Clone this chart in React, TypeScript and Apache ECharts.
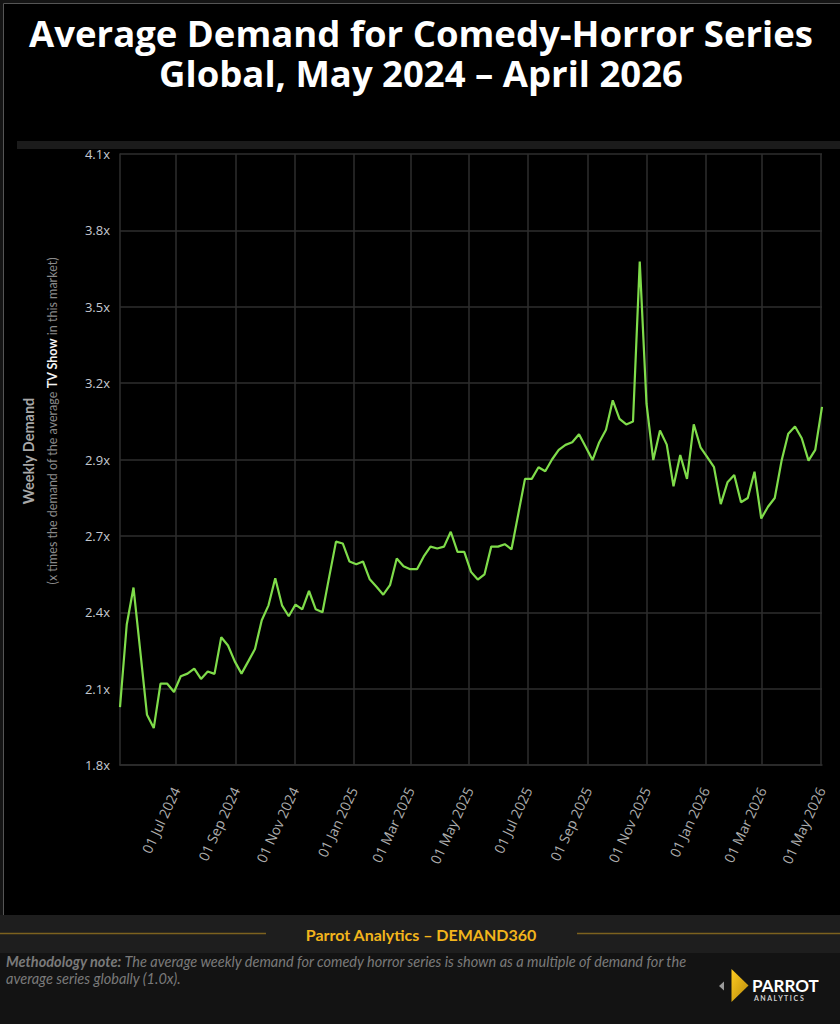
import React, { useEffect, useRef } from "react";
import * as echarts from "echarts";

// ---------- data ----------
const firstWeek = [2024, 4, 4]; // 04 May 2024 (weekly points)
const demandValues: number[] = [
  2.018, 2.329, 2.468, 2.23, 1.989, 1.939, 2.106, 2.106, 2.075, 2.134,
  2.144, 2.163, 2.124, 2.152, 2.143, 2.281, 2.25, 2.19, 2.144, 2.19,
  2.237, 2.345, 2.401, 2.503, 2.401, 2.36, 2.404, 2.386, 2.455, 2.386,
  2.375, 2.509, 2.641, 2.634, 2.566, 2.556, 2.566, 2.499, 2.471, 2.441,
  2.477, 2.577, 2.548, 2.537, 2.537, 2.585, 2.622, 2.615, 2.622, 2.678,
  2.602, 2.602, 2.527, 2.498, 2.518, 2.622, 2.622, 2.631, 2.612, 2.744,
  2.877, 2.877, 2.921, 2.906, 2.95, 2.986, 3.005, 3.015, 3.045, 2.997,
  2.948, 3.015, 3.062, 3.173, 3.103, 3.082, 3.093, 3.695, 3.16, 2.948,
  3.059, 3.006, 2.849, 2.967, 2.877, 3.082, 2.996, 2.959, 2.921, 2.782,
  2.864, 2.892, 2.789, 2.805, 2.904, 2.728, 2.772, 2.805, 2.944, 3.047,
  3.074, 3.03, 2.946, 2.986, 3.148,
];
const yTickValues = [1.8, 2.0875, 2.375, 2.6625, 2.95, 3.2375, 3.525, 3.8125, 4.1];
const yTickLabels = ["1.8x", "2.1x", "2.4x", "2.7x", "2.9x", "3.2x", "3.5x", "3.8x", "4.1x"];
const xTickDates = [
  [2024, 7, 1], [2024, 9, 1], [2024, 11, 1], [2025, 1, 1], [2025, 3, 1], [2025, 5, 1],
  [2025, 7, 1], [2025, 9, 1], [2025, 11, 1], [2026, 1, 1], [2026, 3, 1], [2026, 5, 1],
];
const monthNames = ["Jan", "Feb", "Mar", "Apr", "May", "Jun", "Jul", "Aug", "Sep", "Oct", "Nov", "Dec"];

const titleLine1 = "Average Demand for Comedy-Horror Series";
const titleLine2 = "Global, May 2024 – April 2026";
const yNameMain = "Weekly Demand";
const footerTitle = "Parrot Analytics – DEMAND360";

export default function App() {
  const ref = useRef<HTMLDivElement>(null);

  useEffect(() => {
    document.body.style.margin = "0";
    document.body.style.background = "#000";
    const chart = echarts.init(ref.current!, null, { renderer: "svg" });

    const weekDates = demandValues.map((_, i) =>
      new Date(firstWeek[0], firstWeek[1], firstWeek[2] + 7 * i).getTime()
    );
    const seriesData = demandValues.map((v, i) => [weekDates[i], v]);
    const xTicks = xTickDates.map((d) => new Date(d[0], d[1] - 1, d[2]).getTime());
    const pad = (n: number) => (n < 10 ? "0" + n : "" + n);
    const font = "'Open Sans', 'Noto Sans', sans-serif";
    const geo = "Lato, 'Noto Sans', sans-serif";
    const titleFont = "'Open Sans', Lato, sans-serif";

    const option: any = {
      animation: false,
      backgroundColor: "#000",
      grid: { left: 120, right: 18, top: 154, bottom: 259, containLabel: false },
      xAxis: {
        type: "value",
        min: weekDates[0],
        max: weekDates[weekDates.length - 1],
        axisLine: { show: true, onZero: false, lineStyle: { color: "#2e2e2e", width: 1.5 } },
        axisTick: { show: false, customValues: xTicks },
        splitLine: { show: true, lineStyle: { color: "#2e2e2e", width: 1.5 } },
        axisLabel: {
          customValues: xTicks,
          rotate: 65,
          margin: 23,
          color: "#adadad",
          fontFamily: font,
          fontSize: 14,
          formatter: (v: number) => {
            const d = new Date(v);
            return `${pad(d.getDate())} ${monthNames[d.getMonth()]} ${d.getFullYear()}`;
          },
        },
      },
      yAxis: {
        type: "value",
        min: yTickValues[0],
        max: yTickValues[yTickValues.length - 1],
        axisLine: { show: true, lineStyle: { color: "#2e2e2e", width: 1.5 } },
        axisTick: { show: false, customValues: yTickValues },
        splitLine: { show: true, lineStyle: { color: "#2e2e2e", width: 1.5 } },
        axisLabel: {
          customValues: yTickValues,
          margin: 10,
          color: "#c5c8d0",
          fontFamily: font,
          fontSize: 13,
          formatter: (v: number) => {
            const i = yTickValues.findIndex((t) => Math.abs(t - v) < 1e-6);
            return i >= 0 ? yTickLabels[i] : "";
          },
        },
      },
      series: [
        {
          type: "line",
          data: seriesData,
          showSymbol: false,
          lineStyle: { color: "#7fdc4a", width: 2.2 },
          itemStyle: { color: "#7fdc4a" },
        },
      ],
      graphic: [
        { type: "rect", shape: { x: 0, y: 0, width: 3, height: 915 }, style: { fill: "#141414" }, silent: true },
        { type: "rect", shape: { x: 0, y: 0, width: 840, height: 3 }, style: { fill: "#141414" }, silent: true },
        { type: "line", shape: { x1: 3.5, y1: 3.5, x2: 3.5, y2: 915 }, style: { stroke: "#555", lineWidth: 1 }, silent: true },
        { type: "line", shape: { x1: 3.5, y1: 3.5, x2: 840, y2: 3.5 }, style: { stroke: "#555", lineWidth: 1 }, silent: true },
        // title
        {
          type: "text",
          x: 421,
          y: 33,
          style: {
            text: titleLine1,
            fill: "#ffffff",
            font: `700 36.5px ${titleFont}`,
            align: "center",
            verticalAlign: "middle",
          },
          silent: true,
        },
        {
          type: "text",
          x: 421,
          y: 73,
          style: {
            text: titleLine2,
            fill: "#ffffff",
            font: `700 36.5px ${titleFont}`,
            align: "center",
            verticalAlign: "middle",
          },
          silent: true,
        },
        { type: "rect", shape: { x: 17, y: 141, width: 823, height: 8 }, style: { fill: "#1b1b1b" }, silent: true },
        {
          type: "text",
          x: 28,
          y: 451,
          rotation: Math.PI / 2,
          style: {
            text: yNameMain,
            fill: "#a8a8a8",
            font: `700 14.5px ${geo}`,
            align: "center",
            verticalAlign: "middle",
          },
          silent: true,
        },
        {
          type: "text",
          x: 52,
          y: 421,
          rotation: Math.PI / 2,
          style: {
            text: "{n|(x times the demand of the average }{b|TV Show}{n| in this market)}",
            align: "center",
            verticalAlign: "middle",
            rich: {
              n: { fill: "#8a8a8a", font: `400 12.5px ${geo}` },
              b: { fill: "#f2f2f2", font: `700 12.5px ${geo}` },
            },
          },
          silent: true,
        },
        { type: "rect", shape: { x: 0, y: 915, width: 840, height: 38 }, style: { fill: "#1e1e1e" }, silent: true },
        { type: "rect", shape: { x: 0, y: 953, width: 840, height: 71 }, style: { fill: "#131313" }, silent: true },
        { type: "line", shape: { x1: 0, y1: 933.5, x2: 266, y2: 933.5 }, style: { stroke: "#7d621f", lineWidth: 1.5 }, silent: true },
        { type: "line", shape: { x1: 577, y1: 933.5, x2: 840, y2: 933.5 }, style: { stroke: "#7d621f", lineWidth: 1.5 }, silent: true },
        {
          type: "text",
          x: 421,
          y: 934,
          style: {
            text: footerTitle,
            fill: "#f2b51c",
            font: `700 16px ${geo}`,
            align: "center",
            verticalAlign: "middle",
          },
          silent: true,
        },
        {
          type: "text",
          x: 6,
          y: 970,
          style: {
            text:
              "{b|Methodology note:}{n| The average weekly demand for comedy horror series is shown as a multiple of demand for the}\n{n|average series globally (1.0x).}",
            verticalAlign: "middle",
            lineHeight: 17,
            rich: {
              b: { fill: "#7a7a7a", font: `italic 700 14.5px ${geo}`, lineHeight: 17 },
              n: { fill: "#7a7a7a", font: `italic 400 14.5px ${geo}`, lineHeight: 17 },
            },
          },
          silent: true,
        },
        {
          type: "polygon",
          shape: { points: [[719, 986], [724, 981.5], [724, 990.5]] },
          style: { fill: "#9a9a9a" },
          silent: true,
        },
        {
          type: "polygon",
          shape: { points: [[731.5, 969], [748.5, 985.5], [731.5, 1002]] },
          style: {
            fill: new echarts.graphic.LinearGradient(0, 0, 1, 1, [
              { offset: 0, color: "#ffcc1f" },
              { offset: 1, color: "#b88a0c" },
            ]),
          },
          silent: true,
        },
        {
          type: "text",
          x: 752,
          y: 985,
          style: {
            text: "PARROT",
            fill: "#ffffff",
            font: `700 17px ${geo}`,
            verticalAlign: "middle",
          },
          silent: true,
        },
        {
          type: "text",
          x: 754,
          y: 998,
          style: {
            text: "A N A L Y T I C S",
            fill: "#d0d0d0",
            font: `700 7px ${geo}`,
            verticalAlign: "middle",
          },
          silent: true,
        },
      ],
    };

    chart.setOption(option);
    return () => chart.dispose();
  }, []);

  return <div ref={ref} style={{ width: 840, height: 1024 }} />;
}
